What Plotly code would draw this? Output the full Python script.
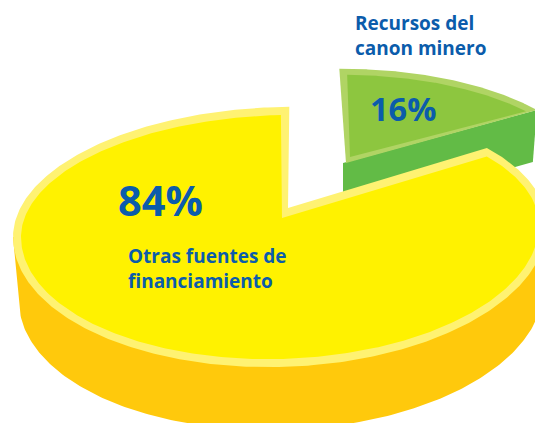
import numpy as np
import plotly.graph_objects as go

CATEGORIES = [["Recursos del", "canon minero"], ["Otras fuentes de", "financiamiento"]]
SHARES = [16, 84]
PERCENT_LABELS = ["16%", "84%"]

W, H = 535, 423
START_DEG = 2.0
FORESHORTEN = 0.847   # perspective squeeze of the pictured slice
TILT = 6.0
BLUE = "#0b5cab"


def rim(cx, cy, rx, ry_top, ry_bottom, t0, t1, n=200):
    t = np.radians(np.linspace(t0, t1, n))
    s, c = np.sin(t), np.cos(t)
    return cx + rx * s, cy - np.where(c > 0, ry_top, ry_bottom) * c - TILT * s


def wedge(arc, apex):
    return np.r_[arc[0], apex[0], arc[0][0]], np.r_[arc[1], apex[1], arc[1][0]]


sweep = SHARES[0] / 100 * 360 * FORESHORTEN
end = START_DEG + sweep
full_end = START_DEG + 360  # the larger slice closes the visual circle

fig = go.Figure()


def add(x, y, color, name):
    fig.add_trace(go.Scatter(x=x, y=y, mode="lines", fill="toself", fillcolor=color,
                             line=dict(width=0, color=color), hoverinfo="skip",
                             name=name, showlegend=False))


# Green slice (share 0)
gx, gy = rim(330, 193, 267, 124, 124, START_DEG, end)
green_apex = (346, 163)
side_x = [green_apex[0] - 3, gx[-1], gx[-1] - 4, green_apex[0] - 3]
side_y = [green_apex[1], gy[-1], gy[-1] + 52, green_apex[1] + 52]
add(side_x, side_y, "#62bb46", "green side")
add(*wedge((gx, gy), green_apex), "#b0d464", "green rim")
gix, giy = rim(330, 193, 259, 118, 118, START_DEG + 1.8, end - 1.6)
add(*wedge((gix, giy), (350, 157)), "#8dc63f", "green top")

# Yellow slice (share 1)
bx, by = rim(281, 295, 262, 135, 135, 270, 90)
ax_, ay_ = rim(280, 231, 267, 124, 136, 270, 90)
add(np.r_[ax_[0], bx, ax_[-1]], np.r_[ay_[0], by, ay_[-1]], "#ffc90c", "yellow side")
yx, yy = rim(280, 231, 267, 124, 136, end, full_end, 400)
add(*wedge((yx, yy), (288, 208)), "#fff272", "yellow rim")
yix, yiy = rim(280, 231, 259, 116, 128, end + 2.2, full_end - 1.8, 400)
add(*wedge((yix, yiy), (282, 218)), "#fff200", "yellow top")

LABEL_SIZE = 19
annotations = [
    dict(x=353, y=23, text=CATEGORIES[0][0], font=dict(size=LABEL_SIZE, color=BLUE)),
    dict(x=353, y=48, text=CATEGORIES[0][1], font=dict(size=LABEL_SIZE, color=BLUE)),
    dict(x=368, y=108, text=PERCENT_LABELS[0], font=dict(size=32.5, color=BLUE)),
    dict(x=116, y=200, text=PERCENT_LABELS[1], font=dict(size=41.5, color=BLUE)),
    dict(x=126, y=256, text=CATEGORIES[1][0], font=dict(size=LABEL_SIZE, color=BLUE)),
    dict(x=126, y=281, text=CATEGORIES[1][1], font=dict(size=LABEL_SIZE, color=BLUE)),
]
for a in annotations:
    a.update(xref="x", yref="y", xanchor="left", yanchor="middle", align="left", showarrow=False)
    a["font"]["family"] = "Open Sans"
    a["text"] = f"<b>{a['text']}</b>"

fig.update_layout(
    width=W, height=H, margin=dict(l=0, r=0, t=0, b=0),
    paper_bgcolor="white", plot_bgcolor="white", annotations=annotations,
    xaxis=dict(range=[0, W], visible=False, fixedrange=True),
    yaxis=dict(range=[H, 0], visible=False, fixedrange=True),
)
fig.write_html("out.html", config={"displayModeBar": False},
               post_script="document.body.style.margin='0';document.body.style.overflow='hidden';")
